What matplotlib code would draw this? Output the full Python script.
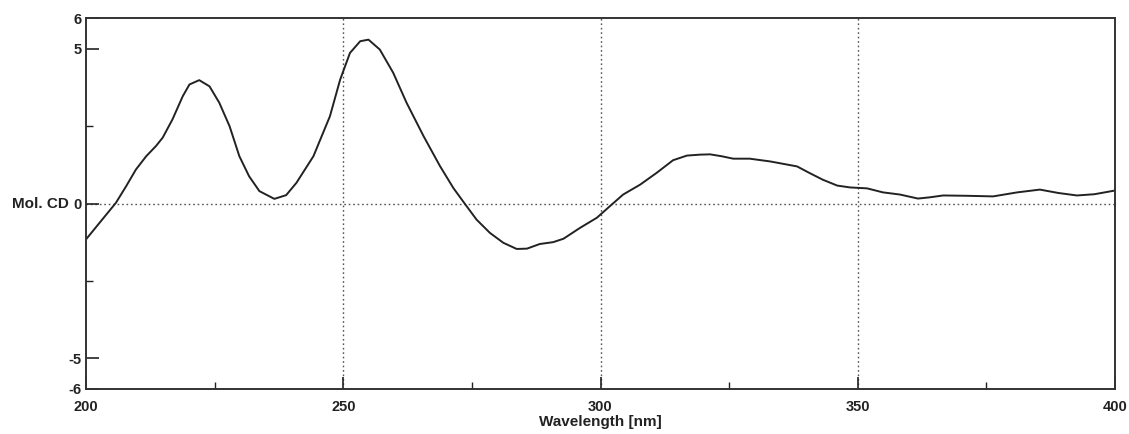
import matplotlib
matplotlib.use("Agg")
import matplotlib.pyplot as plt

wavelength = [200.0, 202.6, 205.8, 207.8, 209.7, 211.7, 213.6, 214.9, 216.8, 218.8,
              220.1, 222.0, 224.0, 225.9, 227.9, 229.8, 231.7, 233.7, 236.6, 238.9,
              240.9, 244.2, 247.4, 249.4, 251.3, 253.3, 254.9, 257.1, 259.7, 262.3,
              265.6, 268.8, 271.4, 273.5, 275.9, 278.5, 281.1, 283.7, 285.7, 288.2,
              290.8, 292.8, 296.0, 299.3, 301.8, 304.4, 307.7, 310.9, 314.1, 316.8,
              319.3, 321.3, 323.5, 325.8, 329.0, 333.0, 338.2, 340.7, 343.2, 346.0,
              348.5, 351.8, 354.9, 358.2, 361.7, 364.0, 366.6, 371.0, 376.3, 381.0,
              385.4, 389.0, 392.6, 396.0, 400.0]
mol_cd = [-1.16, -0.63, 0.02, 0.56, 1.10, 1.53, 1.86, 2.13, 2.72, 3.47,
          3.85, 3.99, 3.79, 3.26, 2.50, 1.53, 0.88, 0.40, 0.15, 0.27,
          0.67, 1.53, 2.82, 4.01, 4.87, 5.25, 5.30, 4.98, 4.23, 3.26,
          2.18, 1.21, 0.50, 0.02, -0.52, -0.95, -1.27, -1.47, -1.46, -1.31,
          -1.25, -1.14, -0.79, -0.46, -0.09, 0.29, 0.61, 0.99, 1.40, 1.55,
          1.58, 1.59, 1.53, 1.45, 1.45, 1.36, 1.20, 0.98, 0.77, 0.58,
          0.52, 0.49, 0.36, 0.29, 0.16, 0.20, 0.26, 0.25, 0.23, 0.36,
          0.45, 0.34, 0.26, 0.30, 0.42]

x_label_ticks = [200, 250, 300, 350, 400]
x_minor_ticks = [225, 275, 325, 375]
y_label_ticks = [-6, -5, 0, 5, 6]
y_minor_ticks = [-2.5, 2.5]

plt.rcParams['font.family'] = ['Liberation Sans', 'DejaVu Sans']
plt.rcParams['axes.unicode_minus'] = False
fig = plt.figure(figsize=(11.29, 4.34), dpi=100)
ax = fig.add_axes([0.0762, 0.1037, 0.9114, 0.8548])

ax.plot(wavelength, mol_cd, color='#222222', lw=1.4, solid_joinstyle='round')
ax.set_xlim(200, 400)
ax.set_ylim(-6, 6)

for gx in [250, 300, 350]:
    ax.axvline(gx, color='#555555', lw=1.0, ls=(0, (1.2, 2.0)), zorder=0)
ax.axhline(0, color='#555555', lw=1.0, ls=(0, (1.2, 2.0)), zorder=0)

ax.set_xticks(x_label_ticks)
ax.set_xticks(x_minor_ticks, minor=True)
ax.set_yticks(y_label_ticks)
ax.set_yticks(y_minor_ticks, minor=True)
ax.tick_params(axis='both', which='major', direction='in', length=9, width=1.2,
               labelsize=10.5, colors='#222222', pad=3)
ax.tick_params(axis='both', which='minor', direction='in', length=5, width=1.0,
               colors='#222222')
ax.tick_params(axis='x', which='major', pad=8)
for lbl in ax.get_xticklabels() + ax.get_yticklabels():
    lbl.set_fontweight('bold')
for s in ax.spines.values():
    s.set_linewidth(1.4)
    s.set_color('#333333')

ax.set_xlabel('Wavelength [nm]', fontsize=11, fontweight='bold', labelpad=1, color='#222222')
ax.set_ylabel('Mol. CD', fontsize=11, fontweight='bold', rotation=0, color='#222222',
              ha='right', va='center')
ax.yaxis.set_label_coords(-0.017, 0.5)

fig.savefig('out.png', dpi=100)
